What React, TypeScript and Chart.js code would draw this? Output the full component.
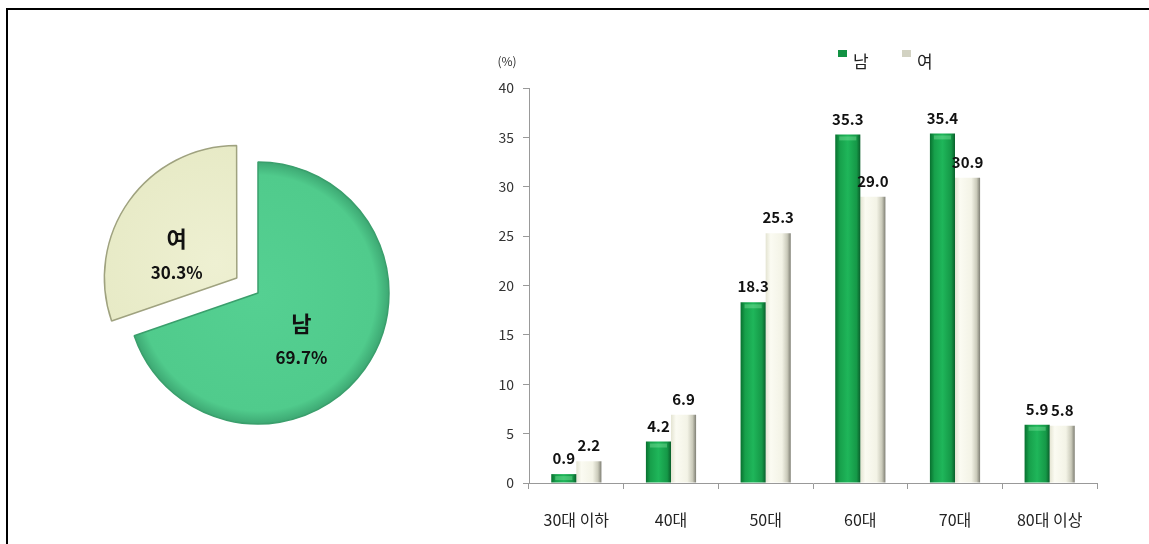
import React, { useEffect, useRef } from "react";
import { Chart, registerables } from "chart.js";

Chart.register(...registerables);

// ---------- data ----------
const pieLabels = ["남", "여"];
const pieValues = [69.7, 30.3];

const ageCategories = ["30대 이하", "40대", "50대", "60대", "70대", "80대 이상"];
const seriesNames = ["남", "여"];
const maleValues = [0.9, 4.2, 18.3, 35.3, 35.4, 5.9];
const femaleValues = [2.2, 6.9, 25.3, 29.0, 30.9, 5.8];
const yMin = 0;
const yMax = 40;
const yStep = 5;
const unitLabel = "(%)";

const FONT = "'Noto Sans CJK KR', 'Noto Sans', sans-serif";

// ---------- frame (top and left rule of the cropped figure) ----------
function Frame() {
  const ref = useRef<HTMLCanvasElement | null>(null);
  useEffect(() => {
    const c = ref.current;
    if (!c) return;
    const ctx = c.getContext("2d");
    if (!ctx) return;
    ctx.clearRect(0, 0, c.width, c.height);
    ctx.fillStyle = "#000";
    ctx.fillRect(6, 8, c.width - 6, 2);
    ctx.fillRect(6, 8, 2, c.height - 8);
  }, []);
  return (
    <canvas
      ref={ref}
      width={1149}
      height={544}
      style={{ position: "absolute", left: 0, top: 0, width: 1149, height: 544 }}
    />
  );
}

// ---------- pie ----------
function PieChart() {
  const ref = useRef<HTMLCanvasElement | null>(null);
  useEffect(() => {
    if (!ref.current) return;
    const stops: string[][] = [
      ["#55d092", "#50cb8c", "#3da873"],
      ["#eef0d2", "#e7eac6", "#b9bc98"],
    ];
    const labelAngleShift = [12, -15];
    const piePlugin = {
      id: "piePaint",
      beforeDatasetsDraw(chart: any) {
        const ctx = chart.ctx;
        const meta = chart.getDatasetMeta(0);
        meta.data.forEach((arc: any, i: number) => {
          const half = (arc.startAngle + arc.endAngle) / 2;
          const off = (arc.options.offset || 0) / 4;
          const cx = arc.x + Math.cos(half) * off;
          const cy = arc.y + Math.sin(half) * off;
          const g = ctx.createRadialGradient(cx, cy, 0, cx, cy, arc.outerRadius);
          g.addColorStop(0, stops[i][0]);
          g.addColorStop(0.9, stops[i][1]);
          g.addColorStop(1, stops[i][2]);
          arc.options.backgroundColor = g;
        });
      },
      afterDatasetsDraw(chart: any) {
        const ctx = chart.ctx;
        const meta = chart.getDatasetMeta(0);
        ctx.save();
        ctx.fillStyle = "#111";
        ctx.textAlign = "center";
        ctx.textBaseline = "middle";
        meta.data.forEach((arc: any, i: number) => {
          const half = (arc.startAngle + arc.endAngle) / 2;
          const off = (arc.options.offset || 0) / 4;
          const cx = arc.x + Math.cos(half) * off;
          const cy = arc.y + Math.sin(half) * off;
          const a = half + (labelAngleShift[i] * Math.PI) / 180;
          const r = arc.outerRadius * 0.49;
          const px = cx + Math.cos(a) * r;
          const py = cy + Math.sin(a) * r;
          ctx.font = `bold 22px ${FONT}`;
          ctx.fillText(pieLabels[i], px, py - 17);
          ctx.font = `bold 17px ${FONT}`;
          ctx.fillText(pieValues[i].toFixed(1) + "%", px, py + 17);
        });
        ctx.restore();
      },
    };
    const chart = new Chart(ref.current, {
      type: "pie",
      data: {
        labels: pieLabels,
        datasets: [
          {
            data: pieValues,
            backgroundColor: (c: any) => ["#50cb8c", "#e7eac6"][c.dataIndex],
            borderColor: ["#3a9f6c", "#9fa27f"],
            borderWidth: 1.5,
            offset: [0, 104],
          },
        ],
      },
      options: {
        responsive: false,
        animation: false,
        radius: 131,
        plugins: { legend: { display: false }, tooltip: { enabled: false } },
      },
      plugins: [piePlugin],
    } as any);
    return () => chart.destroy();
  }, []);
  return (
    <canvas
      ref={ref}
      width={320}
      height={320}
      style={{ position: "absolute", left: 98, top: 133, width: 320, height: 320 }}
    />
  );
}

// ---------- bars ----------
function BarChart() {
  const ref = useRef<HTMLCanvasElement | null>(null);
  useEffect(() => {
    if (!ref.current) return;
    const gradStops = [
      [
        [0, "#08702f"],
        [0.18, "#17a04b"],
        [0.5, "#1fb65a"],
        [0.85, "#159847"],
        [1, "#0a5f2b"],
      ],
      [
        [0, "#e4e4d2"],
        [0.2, "#fbfbf2"],
        [0.65, "#f3f3e6"],
        [0.86, "#cacaba"],
        [1, "#7f7f74"],
      ],
    ];
    const barPlugin = {
      id: "barPaint",
      beforeDatasetsDraw(chart: any) {
        const ctx = chart.ctx;
        chart.data.datasets.forEach((_: any, di: number) => {
          const meta = chart.getDatasetMeta(di);
          meta.data.forEach((el: any) => {
            const g = ctx.createLinearGradient(el.x - el.width / 2, 0, el.x + el.width / 2, 0);
            gradStops[di].forEach((s: any) => g.addColorStop(s[0], s[1]));
            el.options.backgroundColor = g;
          });
        });
      },
      afterDatasetsDraw(chart: any) {
        const ctx = chart.ctx;
        ctx.save();
        const m0 = chart.getDatasetMeta(0);
        m0.data.forEach((el: any) => {
          const h = Math.min(4, el.base - el.y - 2);
          if (h > 0) {
            ctx.fillStyle = "rgba(150,240,175,0.35)";
            ctx.fillRect(el.x - el.width / 2 + 4, el.y + 2, el.width - 8, h);
          }
        });
        ctx.fillStyle = "#111";
        ctx.font = `bold 15px ${FONT}`;
        ctx.textAlign = "center";
        ctx.textBaseline = "bottom";
        chart.data.datasets.forEach((ds: any, di: number) => {
          const meta = chart.getDatasetMeta(di);
          meta.data.forEach((el: any, i: number) => {
            ctx.fillText(Number(ds.data[i]).toFixed(1), el.x, el.y - 8);
          });
        });
        ctx.fillStyle = "#333";
        ctx.font = `12px ${FONT}`;
        ctx.textBaseline = "middle";
        ctx.fillText(unitLabel, chart.chartArea.left - 22, chart.chartArea.top - 27);
        const colors = ["#129243", "#d2d2c2"];
        const lx = [368, 432];
        ctx.textAlign = "left";
        ctx.font = `17px ${FONT}`;
        seriesNames.forEach((name, i) => {
          ctx.fillStyle = colors[i];
          ctx.fillRect(lx[i], 10, 9, 7);
          ctx.fillStyle = "#222";
          ctx.fillText(name, lx[i] + 15, 22);
        });
        ctx.restore();
      },
    };
    const chart = new Chart(ref.current, {
      type: "bar",
      data: {
        labels: ageCategories,
        datasets: [
          {
            label: seriesNames[0],
            data: maleValues,
            backgroundColor: () => "#17a04b",
            borderWidth: 0,
          },
          {
            label: seriesNames[1],
            data: femaleValues,
            backgroundColor: () => "#f3f3e6",
            borderWidth: 0,
          },
        ],
      },
      options: {
        responsive: false,
        animation: false,
        layout: { padding: { left: 0, right: 52, top: 48, bottom: 0 } },
        datasets: { bar: { categoryPercentage: 0.53, barPercentage: 1 } },
        plugins: { legend: { display: false }, tooltip: { enabled: false } },
        scales: {
          x: {
            grid: {
              offset: true,
              drawOnChartArea: false,
              drawTicks: true,
              tickLength: 6,
              color: "#999",
            },
            border: { display: true, color: "#999" },
            ticks: { font: { family: FONT, size: 16 }, color: "#222", padding: 21 },
            afterFit: (s: any) => {
              s.height = 61;
            },
          },
          y: {
            min: yMin,
            max: yMax,
            ticks: { stepSize: yStep, font: { family: FONT, size: 14 }, color: "#333", padding: 9 },
            grid: { drawOnChartArea: false, drawTicks: true, tickLength: 6, color: "#999" },
            border: { display: true, color: "#999" },
            afterFit: (s: any) => {
              s.width = 59;
            },
          },
        },
      },
      plugins: [barPlugin],
    } as any);
    return () => chart.destroy();
  }, []);
  return (
    <canvas
      ref={ref}
      width={679}
      height={504}
      style={{ position: "absolute", left: 470, top: 40, width: 679, height: 504 }}
    />
  );
}

export default function App() {
  return (
    <div
      style={{
        position: "fixed",
        left: 0,
        top: 0,
        width: 1149,
        height: 544,
        background: "#fff",
        overflow: "hidden",
      }}
    >
      <Frame />
      <PieChart />
      <BarChart />
    </div>
  );
}
